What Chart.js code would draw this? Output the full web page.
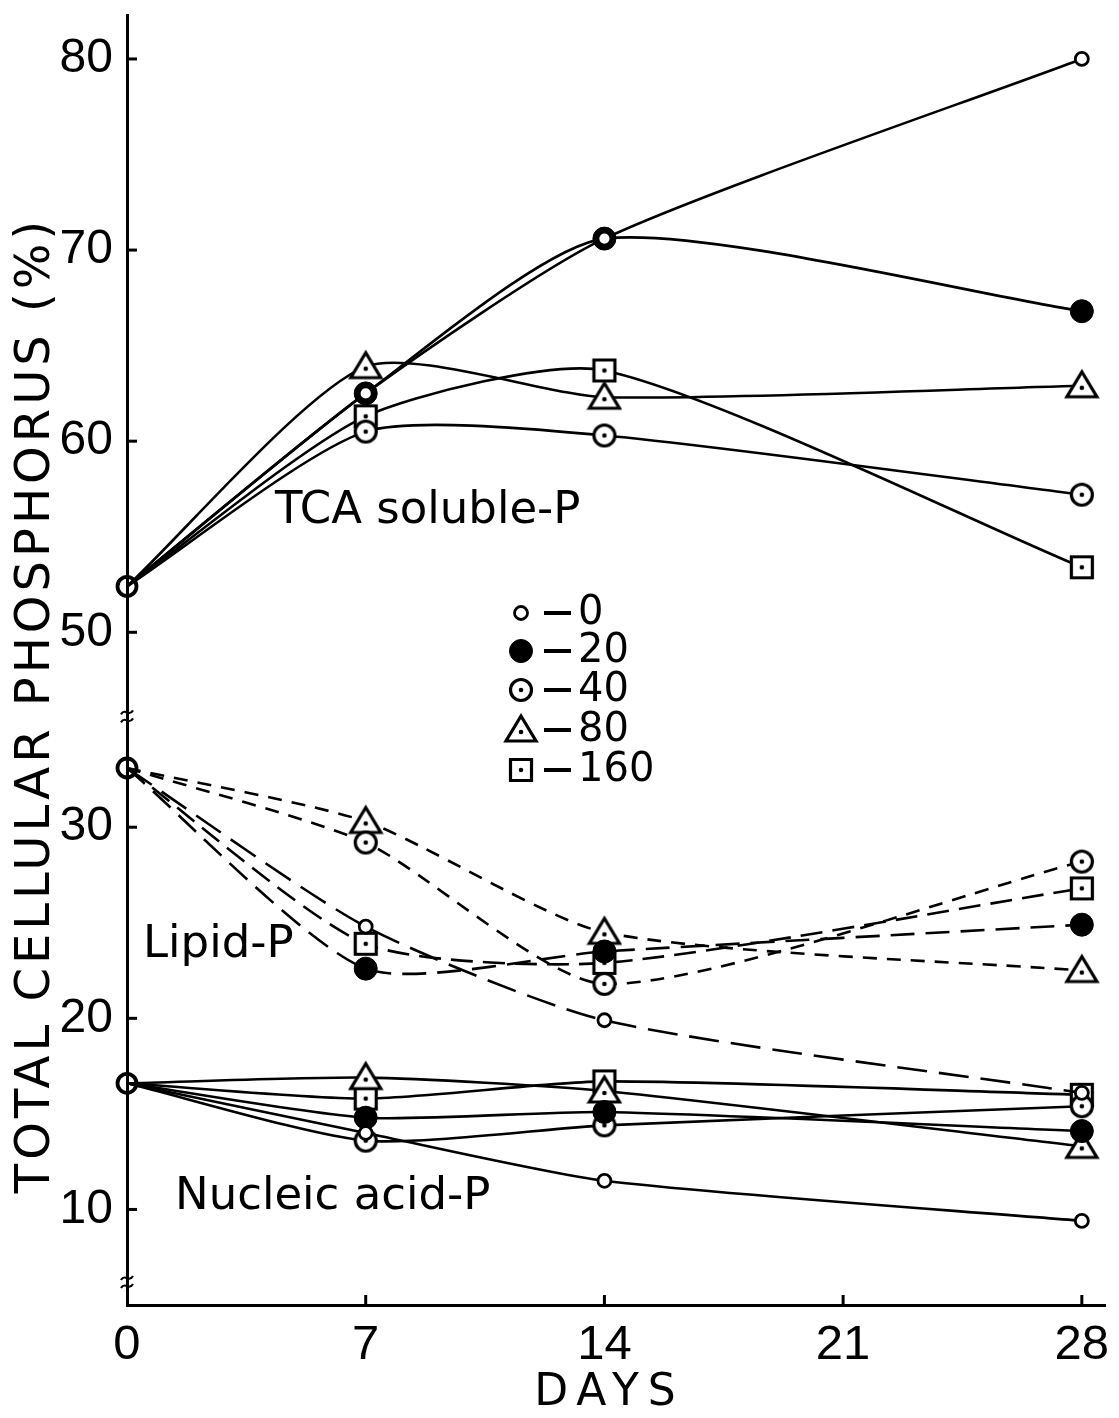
<!DOCTYPE html>
<html>
<head>
<meta charset="utf-8">
<script src="https://cdn.jsdelivr.net/npm/chart.js@4.4.1/dist/chart.umd.min.js"></script>
<style>
  html, body { margin: 0; padding: 0; background: #fff; }
  #wrap { width: 1119px; height: 1418px; }
</style>
</head>
<body>
<div id="wrap"><canvas id="chart" width="1119" height="1418"></canvas></div>
<script>
// Sampling days
const days = [0, 7, 14, 28];
const doses = ['0', '20', '40', '80', '160'];

// TCA soluble-P (% of total cellular phosphorus)
const tca0   = [52.4, 62.5, 70.6, 80.0];
const tca20  = [52.4, 62.5, 70.6, 66.8];
const tca40  = [52.4, 60.5, 60.3, 57.2];
const tca80  = [52.4, 63.9, 62.3, 62.9];
const tca160 = [52.4, 61.3, 63.7, 53.4];

// Lipid-P
const lipid0   = [33.1, 24.8, 19.9, 16.1];
const lipid20  = [33.1, 22.6, 23.5, 24.9];
const lipid40  = [33.1, 29.2, 21.8, 28.2];
const lipid80  = [33.1, 30.3, 24.5, 22.5];
const lipid160 = [33.1, 23.9, 22.9, 26.8];

// Nucleic acid-P
const nucleic0   = [16.6, 14.0, 11.5, 9.4];
const nucleic20  = [16.6, 14.8, 15.1, 14.1];
const nucleic40  = [16.6, 13.6, 14.4, 15.4];
const nucleic80  = [16.6, 16.9, 16.2, 13.3];
const nucleic160 = [16.6, 15.8, 16.7, 16.0];

// Axis ticks
const xTicks = [0, 7, 14, 21, 28];
const yTicks = [10, 20, 30, 50, 60, 70, 80];

// The y axis is broken between 30 and 50: values above the break are
// shifted down so both segments share one linear scale.
const SHIFT = 9.8;
const BREAK_AT = 40;
const toAxis = v => (v > BREAK_AT ? v - SHIFT : v);
const toLabel = v => String(Math.round(v > 36 ? v + SHIFT : v));
const AXIS_BREAKS = [6.2, 35.8];

const FONT = '"DejaVu Sans", "Liberation Sans", sans-serif';
const NUM_FONT = '"Liberation Sans", "DejaVu Sans", sans-serif';

// Open markers with a centre dot
function dotMarker(kind) {
  const c = document.createElement('canvas');
  c.width = 36; c.height = 36;
  const g = c.getContext('2d');
  g.lineWidth = 3.2;
  g.strokeStyle = '#000';
  g.fillStyle = '#fff';
  g.lineJoin = 'miter';
  g.beginPath();
  if (kind === 'circle') {
    g.arc(18, 18, 10.5, 0, Math.PI * 2);
  } else if (kind === 'triangle') {
    g.moveTo(18, 4); g.lineTo(33, 29); g.lineTo(3, 29); g.closePath();
  } else {
    g.rect(7.5, 7.5, 21, 21);
  }
  g.fill();
  g.stroke();
  g.fillStyle = '#000';
  g.beginPath();
  g.arc(18, kind === 'triangle' ? 20 : 18, 2.3, 0, Math.PI * 2);
  g.fill();
  return c;
}

const markers = {
  '0':   { style: 'circle', radius: 6.5, border: 2.8, bg: '#fff' },
  '20':  { style: 'circle', radius: 11.5, border: 1, bg: '#000' },
  '40':  { style: dotMarker('circle'), radius: 10, border: 0, bg: '#fff' },
  '80':  { style: dotMarker('triangle'), radius: 10, border: 0, bg: '#fff' },
  '160': { style: dotMarker('square'), radius: 10, border: 0, bg: '#fff' }
};

const groups = [
  { key: 'TCA soluble-P', series: [tca0, tca20, tca40, tca80, tca160],
    dashes: [[], [], [], [], []] },
  { key: 'Lipid-P', series: [lipid0, lipid20, lipid40, lipid80, lipid160],
    dashes: [[30, 12], [24, 11], [14, 10], [14, 10], [22, 10]] },
  { key: 'Nucleic acid-P', series: [nucleic0, nucleic20, nucleic40, nucleic80, nucleic160],
    dashes: [[], [], [], [], []] }
];

// Dose 0 datasets come first so their markers sit on top of the others.
const datasets = [];
doses.forEach((dose, di) => {
  groups.forEach(grp => {
    const m = markers[dose];
    const vals = grp.series[di];
    datasets.push({
      label: grp.key + ' ' + dose,
      data: days.map((d, i) => ({ x: d, y: toAxis(vals[i]) })),
      borderColor: '#000',
      borderWidth: 2.6,
      borderDash: grp.dashes[di],
      tension: 0.22,
      fill: false,
      clip: false,
      pointStyle: m.style,
      pointRadius: c => (c.dataIndex === 0 ? (di === 0 ? 9.5 : 0) : m.radius),
      pointBorderWidth: c => (c.dataIndex === 0 ? 3.8 : m.border),
      pointBackgroundColor: c => (c.dataIndex === 0 ? 'rgba(255,255,255,0)' : m.bg),
      pointBorderColor: '#000'
    });
  });
});

// Inward tick marks and the axis break symbols
const axisDecor = {
  id: 'axisDecor',
  beforeDatasetsDraw(chart) {
    const { ctx, scales: { x, y }, chartArea: a } = chart;
    ctx.save();
    ctx.strokeStyle = '#000';
    ctx.lineWidth = 3;
    yTicks.forEach(t => {
      const py = y.getPixelForValue(toAxis(t));
      ctx.beginPath(); ctx.moveTo(a.left, py); ctx.lineTo(a.left + 10, py); ctx.stroke();
    });
    xTicks.forEach(t => {
      if (t === 0) return;
      const px = x.getPixelForValue(t);
      ctx.beginPath(); ctx.moveTo(px, a.bottom); ctx.lineTo(px, a.bottom - 10); ctx.stroke();
    });
    ctx.lineWidth = 2.2;
    AXIS_BREAKS.forEach(b => {
      const py = y.getPixelForValue(b);
      [-4, 4].forEach(dy => {
        const yy = py + dy;
        ctx.beginPath();
        ctx.moveTo(a.left - 6, yy + 2);
        ctx.bezierCurveTo(a.left - 2, yy - 5, a.left + 2, yy + 5, a.left + 6, yy - 2);
        ctx.stroke();
      });
    });
    ctx.restore();
  }
};

// Axis titles, group captions and the dose key
const captions = {
  id: 'captions',
  afterDraw(chart) {
    const { ctx } = chart;
    ctx.save();
    ctx.fillStyle = '#000';
    ctx.strokeStyle = '#000';

    // y axis title
    ctx.save();
    ctx.font = '48px ' + FONT;
    ctx.letterSpacing = '4px';
    ctx.textAlign = 'center';
    ctx.textBaseline = 'middle';
    ctx.translate(37, 707);
    ctx.rotate(-Math.PI / 2);
    ctx.fillText('TOTAL CELLULAR PHOSPHORUS (%)', 2, 0);
    ctx.restore();

    // x axis title
    ctx.save();
    ctx.font = '44px ' + FONT;
    ctx.letterSpacing = '9px';
    ctx.textAlign = 'center';
    ctx.textBaseline = 'middle';
    ctx.fillText('DAYS', 605 + 4.5, 1394);
    ctx.restore();

    // group captions
    ctx.font = '45px ' + FONT;
    ctx.textAlign = 'left';
    ctx.textBaseline = 'middle';
    ctx.fillText('TCA soluble-P', 275, 511);
    ctx.fillText('Lipid-P', 143, 945);
    ctx.fillText('Nucleic acid-P', 175, 1197);

    // dose key
    const rowY = [613, 651, 690, 730, 770];
    doses.forEach((dose, i) => {
      const m = markers[dose];
      const cy = rowY[i];
      if (typeof m.style === 'string') {
        ctx.lineWidth = m.border;
        ctx.fillStyle = m.bg;
        ctx.beginPath(); ctx.arc(521, cy, m.radius, 0, Math.PI * 2);
        ctx.fill(); ctx.stroke();
        ctx.fillStyle = '#000';
      } else {
        Chart.helpers.drawPoint(ctx, {
          pointStyle: m.style, radius: m.radius, borderWidth: 0, rotation: 0
        }, 521, cy);
      }
      ctx.lineWidth = 4;
      ctx.beginPath(); ctx.moveTo(544, cy); ctx.lineTo(571, cy); ctx.stroke();
      ctx.font = '40px ' + FONT;
      ctx.textBaseline = 'middle';
      ctx.fillText(dose, 578, cy + 1);
    });
    ctx.restore();
  }
};

new Chart(document.getElementById('chart'), {
  type: 'line',
  data: { datasets },
  options: {
    responsive: false,
    animation: false,
    layout: { padding: { top: 15, right: 7, left: 0, bottom: 0 } },
    plugins: { legend: { display: false }, tooltip: { enabled: false } },
    scales: {
      x: {
        type: 'linear',
        min: 0,
        max: 28.7,
        afterBuildTicks: s => { s.ticks = xTicks.map(v => ({ value: v })); },
        afterFit: s => { s.height = 113; s.paddingLeft = 0; s.paddingRight = 0; },
        grid: { display: false, drawTicks: false },
        border: { display: true, color: '#000', width: 3 },
        ticks: {
          color: '#000', padding: 11, maxRotation: 0, autoSkip: false,
          font: { family: NUM_FONT, size: 49 },
          callback: v => String(v)
        }
      },
      y: {
        type: 'linear',
        min: 5,
        max: 72.5,
        afterBuildTicks: s => { s.ticks = yTicks.map(v => ({ value: toAxis(v) })); },
        afterFit: s => { s.width = 127; s.paddingTop = 0; s.paddingBottom = 0; },
        grid: { display: false, drawTicks: false },
        border: { display: true, color: '#000', width: 3 },
        ticks: {
          color: '#000', padding: 14, autoSkip: false,
          font: { family: NUM_FONT, size: 48 },
          callback: v => toLabel(v)
        }
      }
    }
  },
  plugins: [axisDecor, captions]
});
</script>
</body>
</html>
